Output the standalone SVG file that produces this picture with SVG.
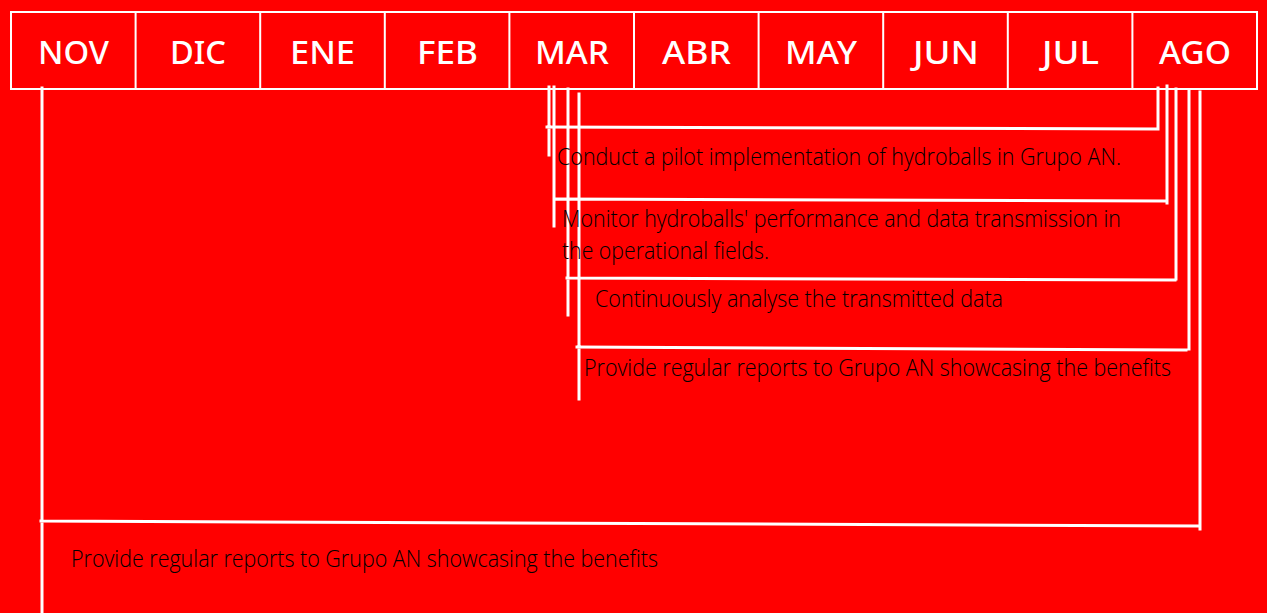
<svg xmlns="http://www.w3.org/2000/svg" width="1267" height="613" viewBox="0 0 1267 613">
<style>
.cell{fill:none;stroke:#fff;stroke-width:2}
.m{font-family:"Noto Sans","Open Sans",sans-serif;font-size:32px;font-weight:500;fill:#fff;text-anchor:middle}
.t{font-family:"Open Sans","Noto Sans",sans-serif;font-size:24px;font-weight:300;fill:#000}
.c{fill:none;stroke:#fff;stroke-width:3;stroke-linecap:square}
</style>
<rect width="1267" height="613" fill="#ff0000"/>
<g id="header">
<rect class="cell" x="11" y="12" width="1246" height="77"/>
<path class="cell" d="M135.6 12V89M260.2 12V89M384.8 12V89M509.4 12V89M634 12V89M758.6 12V89M883.2 12V89M1007.8 12V89M1132.4 12V89"/>
<text class="m" x="73.5" y="64" textLength="71" lengthAdjust="spacingAndGlyphs">NOV</text>
<text class="m" x="198" y="64" textLength="56" lengthAdjust="spacingAndGlyphs">DIC</text>
<text class="m" x="322.5" y="64" textLength="65" lengthAdjust="spacingAndGlyphs">ENE</text>
<text class="m" x="447.5" y="64" textLength="61" lengthAdjust="spacingAndGlyphs">FEB</text>
<text class="m" x="572" y="64" textLength="74" lengthAdjust="spacingAndGlyphs">MAR</text>
<text class="m" x="696.5" y="64" textLength="69" lengthAdjust="spacingAndGlyphs">ABR</text>
<text class="m" x="821" y="64" textLength="72" lengthAdjust="spacingAndGlyphs">MAY</text>
<text class="m" x="946" y="64" textLength="66" lengthAdjust="spacingAndGlyphs">JUN</text>
<text class="m" x="1070.5" y="64" textLength="57" lengthAdjust="spacingAndGlyphs">JUL</text>
<text class="m" x="1195" y="64" textLength="72" lengthAdjust="spacingAndGlyphs">AGO</text>
</g>
<g id="connectors">
<path class="c" d="M549 87V155M547 127L1158 129M1158 88V129"/>
<path class="c" d="M554 87V226M556 199L1165 201M1167 86V203"/>
<path class="c" d="M568 89V315M567 278L1175 280M1176 89V279"/>
<path class="c" d="M579 94V399M577 347L1186 350M1189 90V349"/>
<path class="c" d="M42 88V613M41 521L1199 526M1200 92V529"/>
</g>
<g id="task1"><text class="t" x="557" y="165" textLength="564" lengthAdjust="spacingAndGlyphs">Conduct a pilot implementation of hydroballs in Grupo AN.</text></g>
<g id="task2"><text class="t" x="562" y="227" textLength="559" lengthAdjust="spacingAndGlyphs">Monitor hydroballs' performance and data transmission in</text><text class="t" x="562" y="259" textLength="207" lengthAdjust="spacingAndGlyphs">the operational fields.</text></g>
<g id="task3"><text class="t" x="595" y="307" textLength="408" lengthAdjust="spacingAndGlyphs">Continuously analyse the transmitted data</text></g>
<g id="task4"><text class="t" x="584" y="376" textLength="587" lengthAdjust="spacingAndGlyphs">Provide regular reports to Grupo AN showcasing the benefits</text></g>
<g id="task5"><text class="t" x="71" y="567" textLength="587" lengthAdjust="spacingAndGlyphs">Provide regular reports to Grupo AN showcasing the benefits</text></g>
</svg>
